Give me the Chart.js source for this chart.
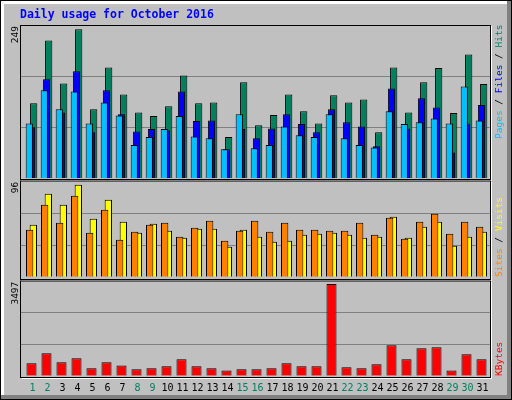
<!DOCTYPE html>
<html><head><meta charset="utf-8">
<script src="https://cdn.jsdelivr.net/npm/chart.js@4"></script>
<style>
html,body{margin:0;padding:0;background:#C0C0C0;}
#wrap{position:relative;width:512px;height:400px;}
canvas{position:absolute;left:0;top:0;}
</style></head><body>
<div id="wrap">
<canvas id="c1" width="512" height="400"></canvas>
<canvas id="c2" width="512" height="400"></canvas>
<canvas id="c3" width="512" height="400"></canvas>
</div>
<script>
const days = ['1','2','3','4','5','6','7','8','9','10','11','12','13','14','15','16','17','18','19','20','21','22','23','24','25','26','27','28','29','30','31'];
const weekend = [1,2,8,9,15,16,22,23,29,30];
const hits  = [122,224,154,242,112,180,136,107,101,117,167,122,123,67,156,86,103,136,109,89,135,123,128,75,180,107,156,179,106,201,153];
const files = [83,161,107,174,75,143,104,76,80,78,141,93,94,47,80,65,81,104,88,75,112,91,84,52,146,81,130,115,42,89,119];
const pages = [89,143,112,141,89,123,102,54,67,80,101,68,65,47,104,49,54,84,70,67,104,65,54,50,109,88,91,97,89,149,94];
const visits= [52,83,72,92,58,77,55,44,53,46,39,48,48,30,47,40,35,36,42,43,44,42,39,40,60,39,50,55,31,40,45];
const sites = [47,72,54,81,44,67,37,45,52,54,40,49,56,36,46,56,45,54,47,47,46,46,54,42,59,38,55,63,43,55,50];
const kbytes= [454,822,491,638,270,491,380,233,270,344,601,344,270,196,233,233,270,454,344,344,3374,307,270,417,1117,601,1006,1043,196,785,601];
const maxLabels = ['249','96','3497'];
const maxVals = [249,96,3497];

const MONO = '"DejaVu Sans Mono", monospace';
const L = 24, R = 489;

function vtext(ctx, parts, x, yBottom, font){
  ctx.save(); ctx.translate(x, yBottom); ctx.rotate(-Math.PI/2);
  ctx.font = font; ctx.textBaseline = 'middle'; ctx.textAlign = 'left';
  let off = 0;
  for (const [t,c] of parts){ ctx.fillStyle = c; ctx.fillText(t, off, 0); off += ctx.measureText(t).width; }
  ctx.restore();
}

const frame = {
  id:'frame',
  beforeDraw(chart){
    const ctx = chart.ctx;
    ctx.save();
    ctx.fillStyle = '#C0C0C0'; ctx.fillRect(0,0,512,400);
    ctx.fillStyle = '#FFFFFF'; ctx.fillRect(1,1,510,3); ctx.fillRect(1,1,3,398);
    ctx.fillStyle = '#808080'; ctx.fillRect(507,1,4,398); ctx.fillRect(1,395,510,4);
    ctx.strokeStyle = '#000'; ctx.lineWidth = 1; ctx.strokeRect(0.5,0.5,511,399);
    const panels = [[25,179],[180.5,279],[280.5,377]];
    for (const [t,b] of panels){
      ctx.strokeStyle = '#000'; ctx.strokeRect(20.5, t+0.5, 470, b-t);
      ctx.strokeStyle = '#FFF';
      ctx.beginPath(); ctx.moveTo(21.5, b+1.5); ctx.lineTo(492, b+1.5); ctx.moveTo(491.5, t+1); ctx.lineTo(491.5, b+2); ctx.stroke();
    }
    ctx.font = 'bold 11.5px ' + MONO; ctx.fillStyle = '#0000FF'; ctx.textBaseline = 'middle';
    ctx.fillText('Daily usage for October 2016', 20, 15);
    ctx.restore();
  }
};

function gridPlugin(idx, extra){
  return {
    id:'g'+idx,
    beforeDatasetsDraw(chart){
      const ctx = chart.ctx, y = chart.scales.y;
      ctx.save(); ctx.strokeStyle = '#808080'; ctx.lineWidth = 1;
      for (const f of [1/3, 2/3]){
        const py = Math.round(y.getPixelForValue(maxVals[idx]*f)) + 0.5;
        ctx.beginPath(); ctx.moveTo(21, py); ctx.lineTo(490, py); ctx.stroke();
      }
      ctx.restore();
    },
    afterDraw(chart){
      const ctx = chart.ctx, a = chart.chartArea;
      const font = '9.5px ' + MONO;
      ctx.save(); ctx.font = font; ctx.fillStyle = '#000'; ctx.textAlign = 'right';
      ctx.translate(15.5, a.top + 1); ctx.rotate(-Math.PI/2); ctx.textBaseline = 'middle';
      ctx.fillText(maxLabels[idx], 0, 0);
      ctx.restore();
      extra(chart, font);
    }
  };
}

function makeChart(id, idx, datasets, top, bottom, extra){
  return new Chart(document.getElementById(id), {
    type:'bar',
    data:{ labels: days, datasets },
    options:{
      responsive:false, animation:false,
      layout:{ padding:{ left:L, right:512-R, top:top, bottom:400-bottom } },
      plugins:{ legend:{display:false}, tooltip:{enabled:false} },
      scales:{
        x:{ display:false },
        y:{ display:false, min:0, max:maxVals[idx] }
      }
    },
    plugins: idx===0 ? [frame, gridPlugin(idx, extra)] : [gridPlugin(idx, extra)]
  });
}

const bw = {borderColor:'#000', borderWidth:1, borderSkipped:'bottom'};
makeChart('c1', 0, [
  {data:hits, backgroundColor:'#00805C', ...bw, categoryPercentage:0.44, barPercentage:3.3, order:3},
  {data:files, backgroundColor:'#0000FF', ...bw, categoryPercentage:0.44, barPercentage:3.3, order:2},
  {data:pages, backgroundColor:'#00C0FF', ...bw, categoryPercentage:0.44, barPercentage:3.3, order:1}
], 25, 178.3, (chart, font) => {
  vtext(chart.ctx, [['Pages','#00C0FF'],[' / ','#000'],['Files','#0000FF'],[' / ','#000'],['Hits','#00805C']], 500, 139, font);
});
makeChart('c2', 1, [
  {data:visits, backgroundColor:'#FFFF00', ...bw, categoryPercentage:0.49, barPercentage:2.0, order:2},
  {data:sites, backgroundColor:'#FF8000', ...bw, categoryPercentage:0.49, barPercentage:2.0, order:1}
], 180.7, 276.7, (chart, font) => {
  vtext(chart.ctx, [['Sites','#FF8000'],[' / ','#000'],['Visits','#FFFF00']], 500, 277, font);
});
makeChart('c3', 2, [
  {data:kbytes, backgroundColor:'#FF0000', ...bw, categoryPercentage:1, barPercentage:0.67}
], 280.7, 375.7, (chart, font) => {
  const ctx = chart.ctx, x = chart.scales.x;
  vtext(ctx, [['KBytes','#FF0000']], 500, 376, font);
  ctx.save(); ctx.font = '10px ' + MONO; ctx.textAlign = 'center'; ctx.textBaseline = 'middle';
  days.forEach((d,i) => {
    ctx.fillStyle = weekend.includes(+d) ? '#008060' : '#000';
    ctx.fillText(d, x.getPixelForValue(i) + 1, 388);
  });
  ctx.restore();
});
</script>
</body></html>
